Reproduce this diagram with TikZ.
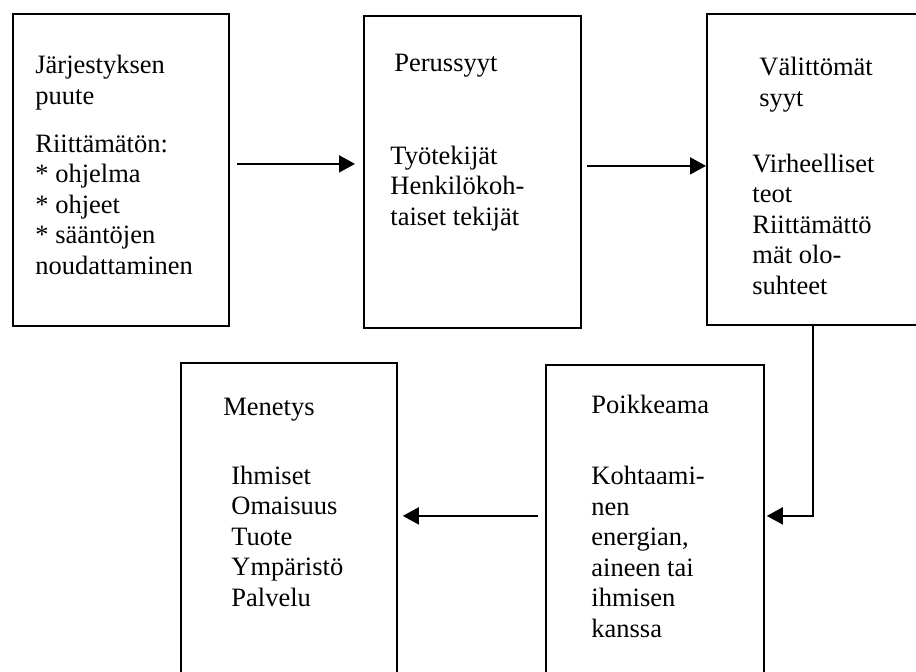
\documentclass[tikz,border=0pt]{standalone}
\usepackage{fontspec}
\setmainfont{Liberation Serif}
\usepackage{tikz}
\usetikzlibrary{arrows.meta, positioning, calc}
\tikzset{
    % Frames of the chain
    stage box/.style={
        rectangle,
        draw=black,
        line width=0.9pt,
        inner sep=0pt,
        anchor=north west
    },
    % Text is placed by the baseline of its last line
    stage text/.style={
        anchor=base west,
        inner sep=0pt,
        align=left,
        font=\fontsize{13.25}{15.25}\selectfont
    },
    arrow style/.style={
        -{Triangle[length=8pt,width=8.5pt]},
        line width=0.9pt,
        black
    }
}
\begin{document}
\begin{tikzpicture}[x=0.5pt, y=-0.5pt]
        \useasboundingbox (0,0) rectangle (916,671);
        \clip (0,0) rectangle (916,671);

        % Box 1
        \node[stage box, minimum width=108pt, minimum height=156pt] (b1) at (12,13) {};
        \node[stage text] (hd1) at (35,104) {J\"arjestyksen\\puute};
        \node[stage text] (bd1) at (35,274) {Riitt\"am\"at\"on:\\* ohjelma\\* ohjeet\\* s\"a\"ant\"ojen\\noudattaminen};

        % Box 2
        \node[stage box, minimum width=108.5pt, minimum height=156pt] (b2) at (363,15) {};
        \node[stage text] (hd2) at (394,71) {Perussyyt};
        \node[stage text] (bd2) at (390,225) {Ty\"otekij\"at\\Henkil\"okoh-\\taiset tekij\"at};

        % Box 3
        \node[stage box, minimum width=112pt, minimum height=155.5pt] (b3) at (706,13) {};
        \node[stage text] (hd3) at (759,106) {V\"alitt\"om\"at\\syyt};
        \node[stage text] (bd3) at (752,294) {Virheelliset\\teot\\Riitt\"am\"att\"o\\m\"at olo-\\suhteet};

        % Box 4
        \node[stage box, minimum width=108pt, minimum height=164pt] (b4) at (180,362) {};
        \node[stage text] (hd4) at (223,415) {Menetys};
        \node[stage text] (bd4) at (231,606) {Ihmiset\\Omaisuus\\Tuote\\Ymp\"arist\"o\\Palvelu};

        % Box 5
        \node[stage box, minimum width=109pt, minimum height=163pt] (b5) at (545,364) {};
        \node[stage text] (hd5) at (591,413) {Poikkeama};
        \node[stage text] (bd5) at (591,637) {Kohtaami-\\nen\\energian,\\aineen tai\\ihmisen\\kanssa};

        % Arrows
        \draw[arrow style, shorten <=3.5pt, shorten >=4pt] ([yshift=3pt]b1.east) -- ([yshift=3pt]b1.east -| b2.west);
        \draw[arrow style, shorten <=2.5pt] ([yshift=3pt]b2.east) -- ([yshift=3pt]b2.east -| b3.west);
        \draw[arrow style, shorten >=1pt] ([xshift=-3pt]b3.south) |- ([yshift=6pt]b5.east);
        \draw[arrow style, shorten <=3.5pt, shorten >=2.5pt] ([yshift=6pt]b5.west) -- ([yshift=6pt]b5.west -| b4.east);
    \end{tikzpicture}
\end{document}
